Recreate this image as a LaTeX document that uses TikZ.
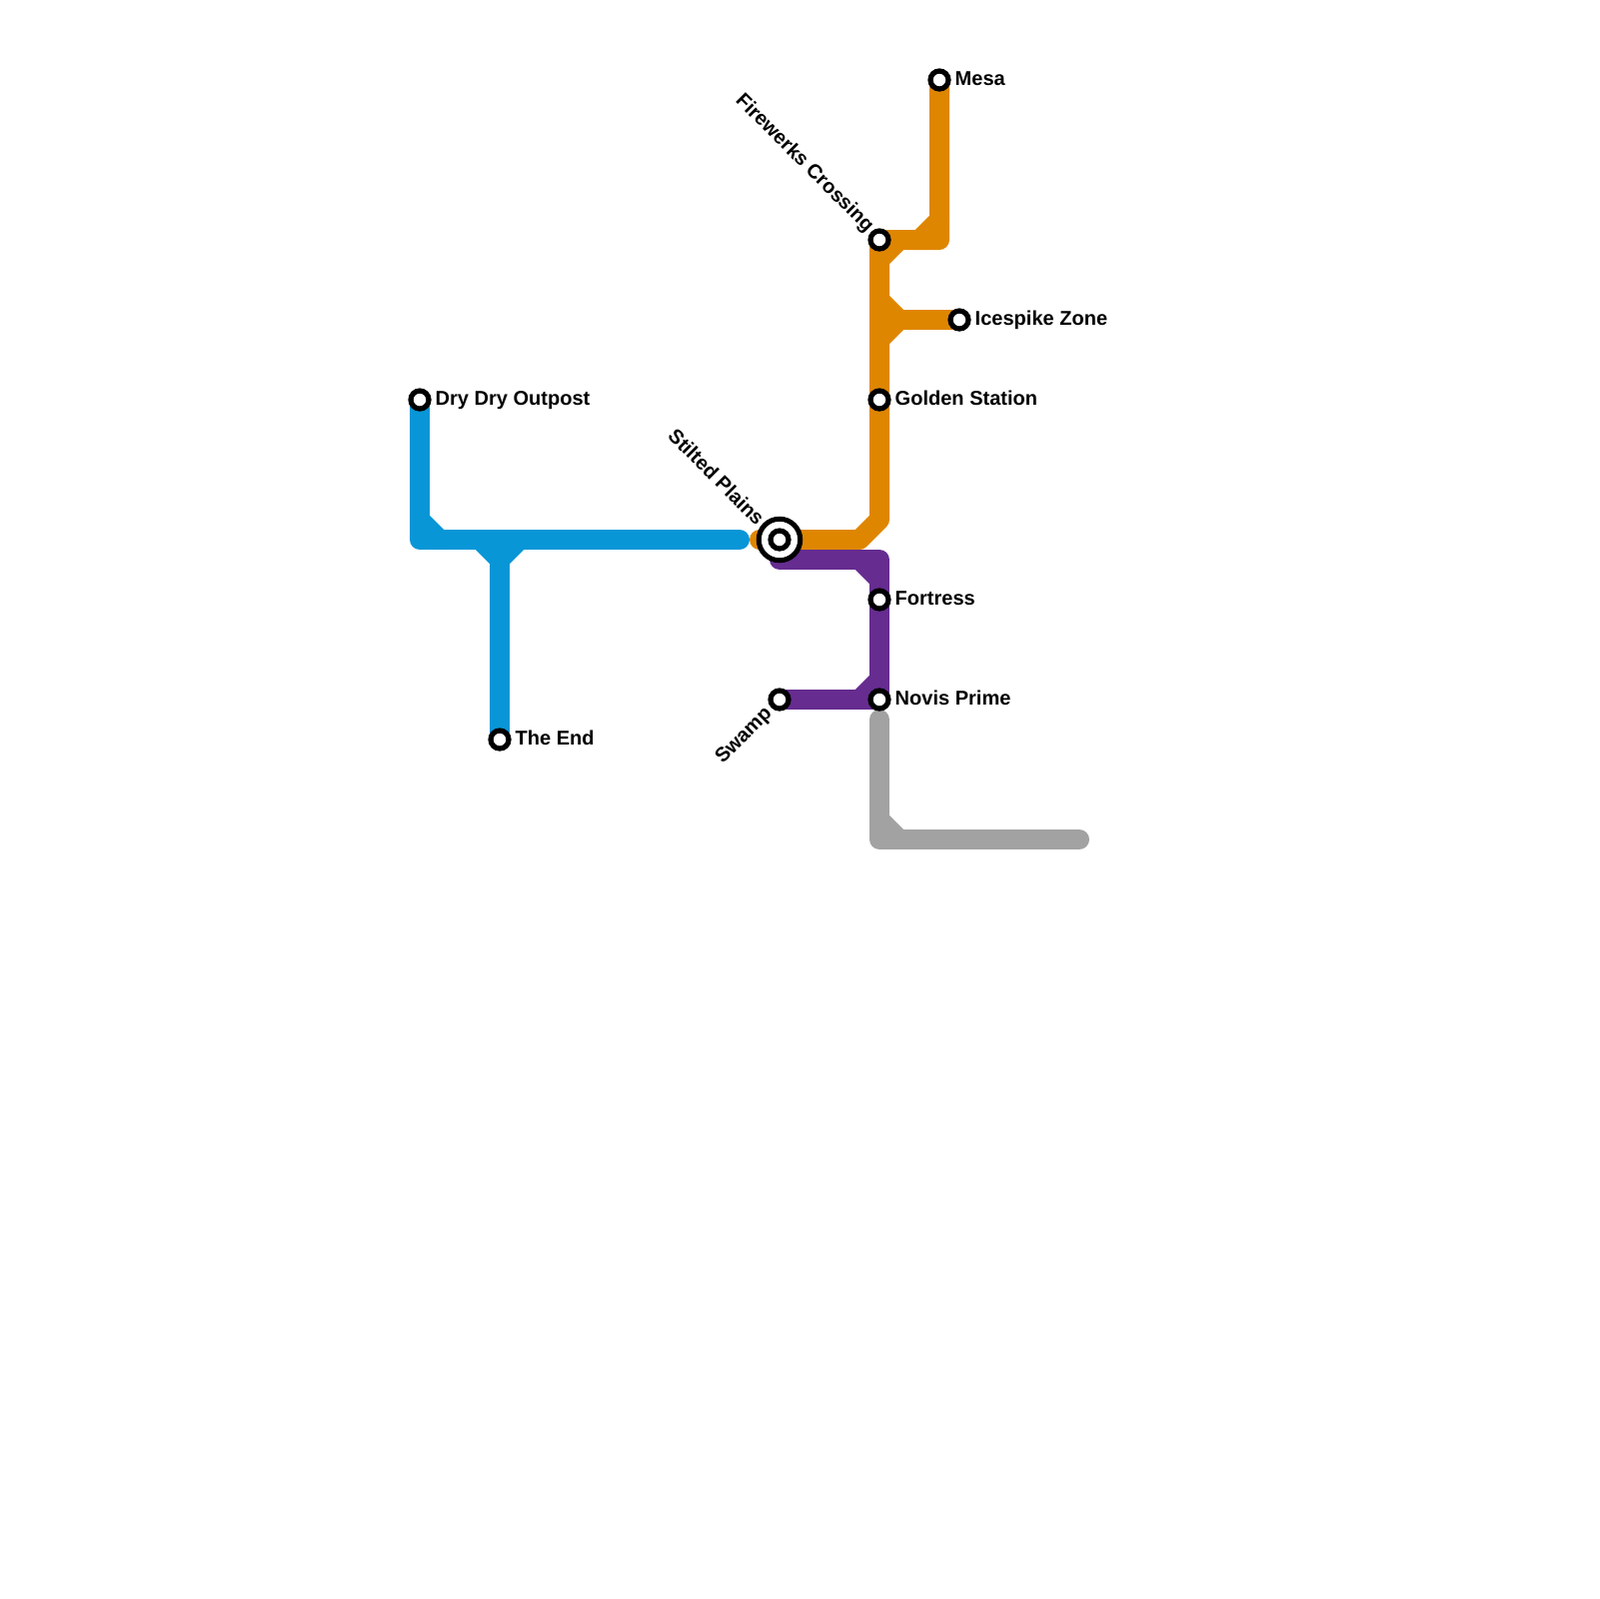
\documentclass[tikz,border=0pt]{standalone}
\usepackage{fontspec}
\setmainfont{Liberation Sans}
\usetikzlibrary{backgrounds,positioning}
\definecolor{lineblue}{HTML}{0896D7}
\definecolor{lineorange}{HTML}{DF8600}
\definecolor{linepurple}{HTML}{662C90}
\definecolor{linegray}{HTML}{A2A2A2}
\tikzset{
  metro/.style     ={line width=2mm,line cap=round,line join=round},
  blueline/.style  ={metro,draw=lineblue},
  orangeline/.style={metro,draw=lineorange},
  purpleline/.style={metro,draw=linepurple},
  grayline/.style  ={metro,draw=linegray},
  station/.style   ={circle,draw=black,fill=white,line width=0.52mm,
                     minimum size=1.8mm,inner sep=0pt},
  hub/.style       ={circle,draw=black,fill=white,line width=0.5mm,
                     minimum size=4.15mm,inner sep=0pt},
  stationname/.style={font=\fontsize{5.7pt}{6pt}\selectfont\bfseries,inner sep=0pt,anchor=base west}
}

\begin{document}
\begin{tikzpicture}[x=0.1mm,y=-0.1mm]
    \useasboundingbox (0,0) rectangle (1600,1600);
    % stations
    \node[station] (dry) at (420,400) {};
    \node[station] (theend) at (500,740) {};
    \node[hub] (stilted) at (780,540) {};
    \node[station] (stiltedin) at (780,540) {};
    \node[station] (fortress) at (880,600) {};
    \node[station] (novis) at (880,700) {};
    \node[station] (swamp) at (780,700) {};
    \node[station] (golden) at (880,400) {};
    \node[station] (firewerks) at (880,240) {};
    \node[station] (icespike) at (960,320) {};
    \node[station] (mesa) at (940,80) {};
    % names
    \node[stationname] (drylabel) at (435,405) {Dry Dry Outpost};
    \node[stationname] (endlabel) at (515,745) {The End};
    \node[stationname] (fortresslabel) at (895,605) {Fortress};
    \node[stationname] (novislabel) at (895,705) {Novis Prime};
    \node[stationname] (goldenlabel) at (895,405) {Golden Station};
    \node[stationname] (icespikelabel) at (975,325) {Icespike Zone};
    \node[stationname] (mesalabel) at (955,85) {Mesa};
    \node[stationname,anchor=east,rotate=-45] (firewerkslabel) at (871,230) {Firewerks Crossing};
    \node[stationname,anchor=east,rotate=-45] (stiltedlabel) at (762,522) {Stilted Plains};
    \node[stationname,anchor=east,rotate=45] (swamplabel) at (770,711) {Swamp};
    % bends and stubs
    \coordinate (bluecorner) at (420,540);
    \coordinate (blueend) at (740,540);
    \coordinate (bluetee) at (500,540);
    \coordinate (bluea) at (420,520);
    \coordinate (blueb) at (440,540);
    \coordinate (bluec) at (480,540);
    \coordinate (blued) at (500,560);
    \coordinate (bluee) at (520,540);
    \coordinate (orangestart) at (760,540);
    \coordinate (orangea) at (860,540);
    \coordinate (orangeb) at (880,520);
    \coordinate (orangec) at (940,240);
    \coordinate (oranged) at (920,240);
    \coordinate (orangee) at (940,220);
    \coordinate (orangef) at (880,260);
    \coordinate (orangeg) at (900,240);
    \coordinate (orangeh) at (880,300);
    \coordinate (orangei) at (900,320);
    \coordinate (orangej) at (880,340);
    \coordinate (orangek) at (880,320);
    \coordinate (purplestart) at (780,560);
    \coordinate (purplecorner) at (880,560);
    \coordinate (purplea) at (860,560);
    \coordinate (purpleb) at (880,580);
    \coordinate (purplec) at (860,700);
    \coordinate (purpled) at (880,680);
    \coordinate (graystart) at (880,720);
    \coordinate (graycorner) at (880,840);
    \coordinate (grayend) at (1080,840);
    \coordinate (graya) at (880,820);
    \coordinate (grayb) at (900,840);
    \begin{scope}[on background layer]
      % orange line
      \draw[orangeline] (orangestart) -- (orangea) -- (orangeb) -- (firewerks.center) -- (orangec) -- (mesa.center);
      \draw[orangeline] (orangek) -- (icespike.center);
      \draw[orangeline] (oranged) -- (orangee);
      \draw[orangeline] (orangef) -- (orangeg);
      \draw[orangeline] (orangeh) -- (orangei) -- (orangej);
      % blue line
      \draw[blueline] (dry.center) -- (bluecorner) -- (blueend);
      \draw[blueline] (bluetee) -- (theend.center);
      \draw[blueline] (bluea) -- (blueb);
      \draw[blueline] (bluec) -- (blued) -- (bluee);
      % purple line
      \draw[purpleline] (purplestart) -- (purplecorner) -- (novis.center) -- (swamp.center);
      \draw[purpleline] (purplea) -- (purpleb);
      \draw[purpleline] (purplec) -- (purpled);
      % gray line
      \draw[grayline] (graystart) -- (graycorner) -- (grayend);
      \draw[grayline] (graya) -- (grayb);
    \end{scope}
\end{tikzpicture}
\end{document}
